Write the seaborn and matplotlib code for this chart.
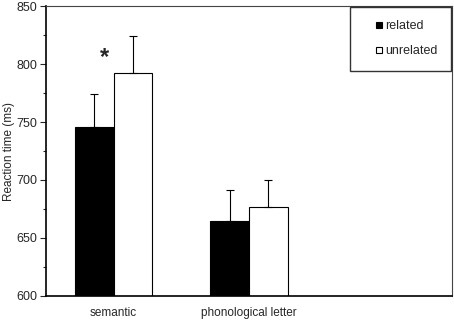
import pandas as pd
import matplotlib
matplotlib.use("Agg")
import matplotlib.pyplot as plt
import seaborn as sns
from matplotlib.ticker import MultipleLocator
from matplotlib.lines import Line2D

# values
conditions = ['semantic', 'phonological letter', '']
related = [746, 665, None]
unrelated = [792, 677, None]
related_err = [28, 26, None]
unrelated_err = [32, 23, None]

rows = []
for i, c in enumerate(conditions):
    rows.append({'condition': c, 'prime': 'related', 'rt': related[i], 'err': related_err[i]})
    rows.append({'condition': c, 'prime': 'unrelated', 'rt': unrelated[i], 'err': unrelated_err[i]})
df = pd.DataFrame(rows)

sns.set_style('white')
plt.rcParams['font.family'] = ['Liberation Sans', 'DejaVu Sans']

fig = plt.figure(figsize=(4.54, 3.22), dpi=100)
ax = fig.add_axes([0.101, 0.081, 0.895, 0.9])

sns.barplot(data=df, x='condition', y='rt', hue='prime', order=conditions,
            hue_order=['related', 'unrelated'], palette=['black', 'white'],
            edgecolor='black', linewidth=0.8, width=0.57, errorbar=None,
            legend=False, ax=ax)

# one-sided error bars on top of each bar
for container, prime in zip(ax.containers, ['related', 'unrelated']):
    sub = df[df['prime'] == prime].reset_index(drop=True)
    for bar, (_, row) in zip(container, sub.iterrows()):
        if pd.isna(row['rt']):
            continue
        x = bar.get_x() + bar.get_width() / 2
        ax.errorbar(x, row['rt'], yerr=[[0], [row['err']]], fmt='none',
                    ecolor='black', elinewidth=0.8, capsize=3, capthick=0.8)

ax.text(-0.07, 806, '*', ha='center', va='center', fontsize=17, fontweight='bold')

ax.set_ylim(600, 850)
ax.set_xlim(-0.5, 2.5)
ax.yaxis.set_major_locator(MultipleLocator(50))
ax.yaxis.set_minor_locator(MultipleLocator(25))
ax.tick_params(axis='y', which='major', direction='out', length=4, width=0.8,
               labelsize=9, left=True, pad=2)
ax.tick_params(axis='y', which='minor', direction='out', length=2.5, width=0.8, left=True)
ax.tick_params(axis='x', length=0, labelsize=8.5, pad=8)
ax.set_xlabel('')
ax.set_ylabel('Reaction time (ms)', fontsize=8.5, labelpad=1)

for side in ['left', 'bottom']:
    ax.spines[side].set_linewidth(1.2)
    ax.spines[side].set_color('black')
for side in ['top', 'right']:
    ax.spines[side].set_linewidth(0.8)
    ax.spines[side].set_color('#444444')

handles = [Line2D([], [], ls='none', marker='s', markersize=5, markerfacecolor='black',
                  markeredgecolor='black', markeredgewidth=0.8),
           Line2D([], [], ls='none', marker='s', markersize=5, markerfacecolor='white',
                  markeredgecolor='black', markeredgewidth=0.8)]
leg = ax.legend(handles, ['related', 'unrelated'], loc='upper right',
                bbox_to_anchor=(0.998, 0.998), frameon=True, fancybox=False,
                fontsize=9, handlelength=2.4, handletextpad=-0.7,
                labelspacing=1.0, borderpad=1.1, borderaxespad=0)
leg.get_frame().set_edgecolor('black')
leg.get_frame().set_linewidth(1.0)

fig.savefig('out.png', dpi=100)
